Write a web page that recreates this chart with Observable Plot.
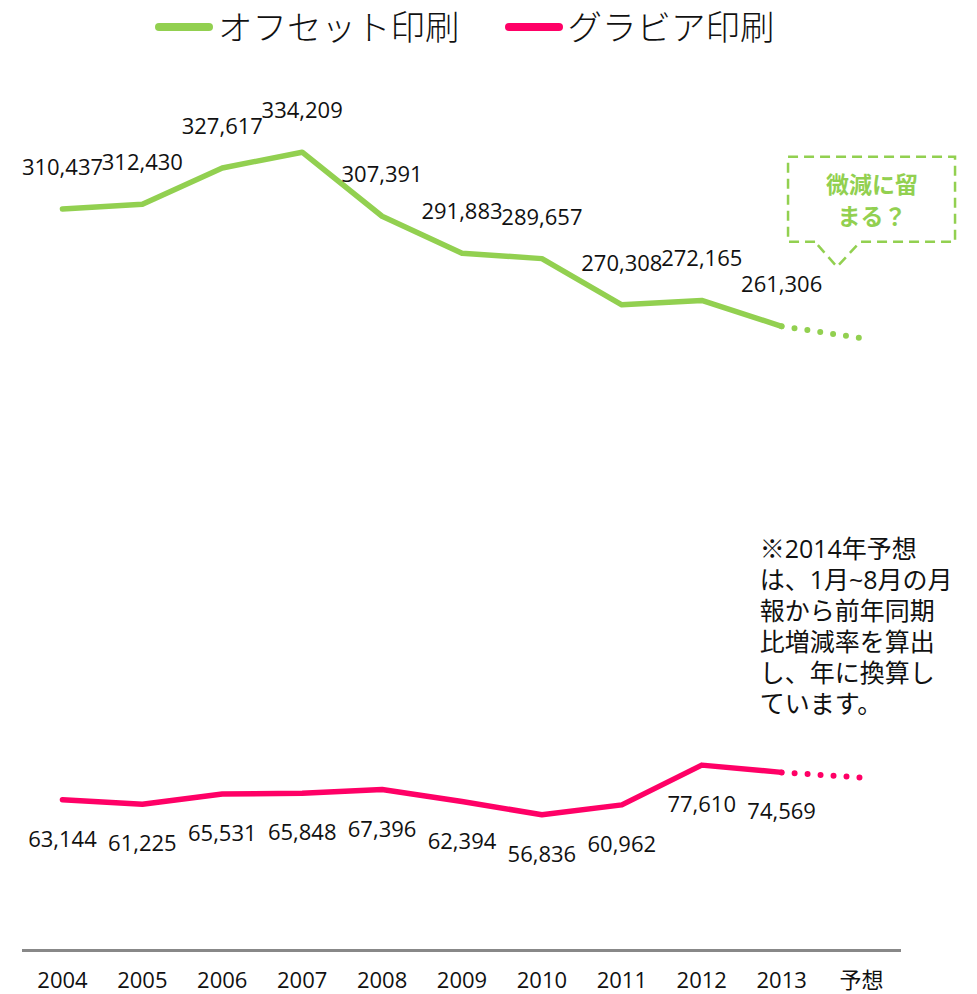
<!DOCTYPE html>
<html>
<head>
<meta charset="utf-8">
<script src="https://cdn.jsdelivr.net/npm/d3@7"></script>
<script src="https://cdn.jsdelivr.net/npm/@observablehq/plot@0.6"></script>
<style>
  html, body { margin: 0; padding: 0; background: #fff; }
  body { width: 977px; height: 994px; overflow: hidden; font-family: "Open Sans", "Noto Sans CJK JP", sans-serif; }
  #legend { height: 50px; display: flex; align-items: center; padding-left: 155px; box-sizing: border-box; font-family: "Noto Sans CJK JP", sans-serif; }
  .item { display: flex; align-items: center; font-size: 34.5px; font-weight: 300; color: #111; }
  .item .sw { width: 58px; height: 8px; border-radius: 4px; margin-right: 5px; margin-top: 4px; }
  .item + .item { margin-left: 45px; }
  #chart svg { display: block; }
</style>
</head>
<body>
<div id="legend"></div>
<div id="chart"></div>
<script>
// ---- data ----
const years = ["2004", "2005", "2006", "2007", "2008", "2009", "2010", "2011", "2012", "2013"];
const forecastLabel = "予想";
const xLabels = [...years, forecastLabel];
const seriesNames = ["オフセット印刷", "グラビア印刷"];
const seriesColors = ["#92d050", "#ff0066"];
const offsetValues = [310437, 312430, 327617, 334209, 307391, 291883, 289657, 270308, 272165, 261306];
const gravureValues = [63144, 61225, 65531, 65848, 67396, 62394, 56836, 60962, 77610, 74569];
const offsetForecast = 256400;
const gravureForecast = 72400;
const calloutLines = ["微減に留", "まる？"];
const calloutAnchor = { x: forecastLabel, y: 286000 };
const noteLines = ["※2014年予想", "は、1月~8月の月", "報から前年同期", "比増減率を算出", "し、年に換算し", "ています。"];
const noteAnchor = { x: "2013", y: 173500 };

// ---- tables ----
const offsetData = years.map((x, i) => ({ x, value: offsetValues[i] }));
const gravureData = years.map((x, i) => ({ x, value: gravureValues[i] }));
const offsetFc = [{ x: years[years.length - 1], value: offsetValues[offsetValues.length - 1] }, { x: forecastLabel, value: offsetForecast }];
const gravureFc = [{ x: years[years.length - 1], value: gravureValues[gravureValues.length - 1] }, { x: forecastLabel, value: gravureForecast }];
const fmt = d3.format(",");

// ---- legend ----
const legend = d3.select("#legend");
seriesNames.forEach((name, i) => {
  const it = legend.append("div").attr("class", "item");
  it.append("span").attr("class", "sw").style("background", seriesColors[i]);
  it.append("span").text(name);
});

// ---- callout frame (custom render mark anchored through scales) ----
function calloutFrame(index, scales) {
  const tx = scales.x(calloutAnchor.x) - 24;
  const ty = scales.y(calloutAnchor.y);
  const L = tx - 49, R = tx + 118, T = ty - 110, B = ty - 25;
  return d3.create("svg:path")
    .attr("d", `M${tx - 22},${B}L${L},${B}L${L},${T}L${R},${T}L${R},${B}L${tx + 23},${B}L${tx},${ty}Z`)
    .attr("fill", "#fff")
    .attr("stroke", seriesColors[0])
    .attr("stroke-width", 2.5)
    .attr("stroke-dasharray", "10 6")
    .node();
}

const chart = Plot.plot({
  width: 977,
  height: 944,
  marginLeft: 22,
  marginRight: 76,
  marginTop: 10,
  marginBottom: 44,
  style: { fontFamily: "'Open Sans', 'Noto Sans CJK JP', sans-serif", fontSize: "22px", color: "#111", background: "#fff" },
  x: { type: "point", domain: xLabels, padding: 0.5, round: false, axis: null },
  y: { domain: [0, 372600], axis: null },
  marks: [
    Plot.ruleY([0], { stroke: "#888", strokeWidth: 3 }),
    Plot.axisX({ tickSize: 0, tickPadding: 22, fontSize: 22, label: null }),
    Plot.line(offsetData, { x: "x", y: "value", stroke: seriesColors[0], strokeWidth: 5.5, strokeLinejoin: "round" }),
    Plot.line(offsetFc, { x: "x", y: "value", stroke: seriesColors[0], strokeWidth: 6, strokeLinecap: "round", strokeDasharray: "0 13" }),
    Plot.line(gravureData, { x: "x", y: "value", stroke: seriesColors[1], strokeWidth: 5.5, strokeLinejoin: "round" }),
    Plot.line(gravureFc, { x: "x", y: "value", stroke: seriesColors[1], strokeWidth: 6, strokeLinecap: "round", strokeDasharray: "0 13" }),
    Plot.text(offsetData, { x: "x", y: "value", text: d => fmt(d.value), dy: -41, fontSize: 22, fill: "#111" }),
    Plot.text(gravureData, { x: "x", y: "value", text: d => fmt(d.value), dy: 40, fontSize: 22, fill: "#111" }),
    calloutFrame,
    Plot.text([calloutLines.join("\n")], { x: () => calloutAnchor.x, y: () => calloutAnchor.y, dx: 10.5, dy: -68.5, text: d => d, lineAnchor: "middle", lineHeight: 1.38, fontSize: 23, fontWeight: "bold", fontFamily: "'Noto Sans CJK JP', sans-serif", fill: seriesColors[0] }),
    Plot.text([noteLines.join("\n")], { x: () => noteAnchor.x, y: () => noteAnchor.y, dx: -22, text: d => d, textAnchor: "start", lineAnchor: "top", lineHeight: 1.24, fontSize: 25, fill: "#111" })
  ]
});
document.getElementById("chart").appendChild(chart);
</script>
</body>
</html>
